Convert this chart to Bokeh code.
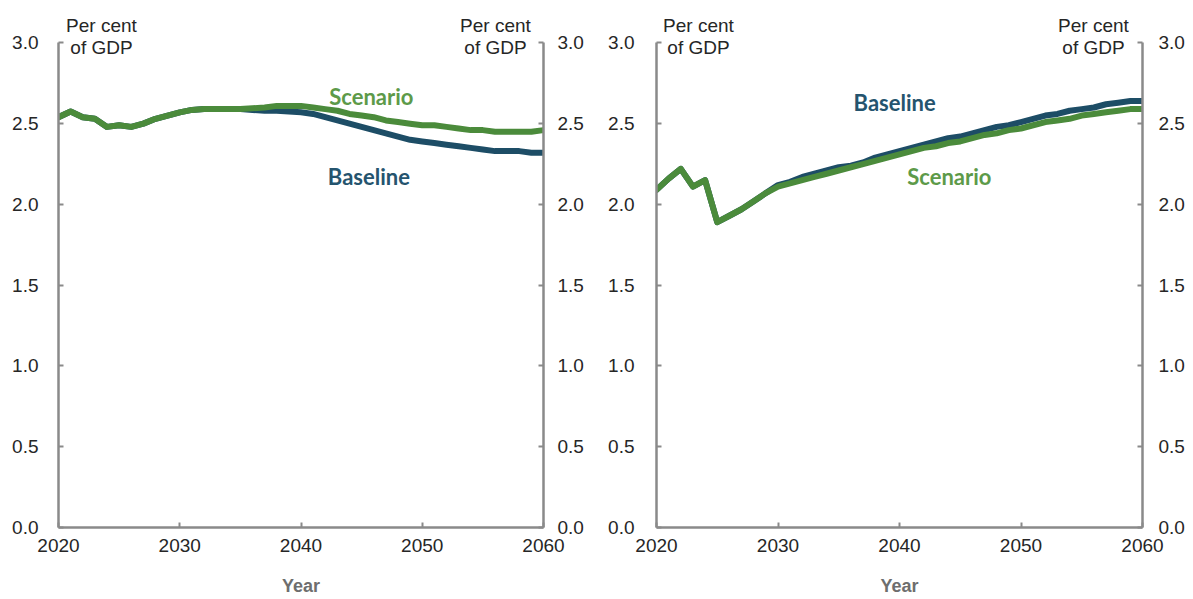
from bokeh.plotting import figure
from bokeh.models import Range1d, LinearAxis, FixedTicker, Label, NumeralTickFormatter
from bokeh.layouts import row
from bokeh.embed import file_html
from bokeh.resources import INLINE

years = list(range(2020, 2061))

left_baseline = [2.54, 2.575, 2.54, 2.53, 2.48, 2.49, 2.48, 2.50, 2.53, 2.55,
                 2.57, 2.585, 2.59, 2.59, 2.59, 2.59, 2.585, 2.58, 2.58, 2.575,
                 2.57, 2.56, 2.54, 2.52, 2.50, 2.48, 2.46, 2.44, 2.42, 2.40,
                 2.39, 2.38, 2.37, 2.36, 2.35, 2.34, 2.33, 2.33, 2.33, 2.32, 2.32]
left_scenario = [2.54, 2.575, 2.54, 2.53, 2.48, 2.49, 2.48, 2.50, 2.53, 2.55,
                 2.57, 2.585, 2.59, 2.59, 2.59, 2.59, 2.595, 2.60, 2.61, 2.61,
                 2.61, 2.60, 2.59, 2.58, 2.56, 2.55, 2.54, 2.52, 2.51, 2.50,
                 2.49, 2.49, 2.48, 2.47, 2.46, 2.46, 2.45, 2.45, 2.45, 2.45, 2.46]

right_baseline = [2.09, 2.16, 2.22, 2.11, 2.15, 1.89, 1.93, 1.97, 2.02, 2.07,
                  2.12, 2.14, 2.17, 2.19, 2.21, 2.23, 2.24, 2.26, 2.29, 2.31,
                  2.33, 2.35, 2.37, 2.39, 2.41, 2.42, 2.44, 2.46, 2.48, 2.49,
                  2.51, 2.53, 2.55, 2.56, 2.58, 2.59, 2.60, 2.62, 2.63, 2.64, 2.64]
right_scenario = [2.09, 2.16, 2.22, 2.11, 2.15, 1.89, 1.93, 1.97, 2.02, 2.07,
                  2.11, 2.13, 2.15, 2.17, 2.19, 2.21, 2.23, 2.25, 2.27, 2.29,
                  2.31, 2.33, 2.35, 2.36, 2.38, 2.39, 2.41, 2.43, 2.44, 2.46,
                  2.47, 2.49, 2.51, 2.52, 2.53, 2.55, 2.56, 2.57, 2.58, 2.59, 2.59]

y_ticks = [0.0, 0.5, 1.0, 1.5, 2.0, 2.5, 3.0]
x_ticks = [2020, 2030, 2040, 2050, 2060]
unit_lines = ["Per cent", "of GDP"]
series_names = ["Baseline", "Scenario"]

BLUE = "#1d4d66"
GREEN = "#4b8b3b"
BLUE_TXT = "#25546e"
GREEN_TXT = "#5d9a49"
AXIS = "#8a8a8a"
FONT = "Liberation Sans"
TXT = "#262626"


def style_axis(ax, standoff):
    ax.ticker = FixedTicker(ticks=y_ticks)
    ax.formatter = NumeralTickFormatter(format="0.0")
    ax.bounds = (0, 3.0)
    ax.axis_line_color = AXIS
    ax.axis_line_width = 2.5
    ax.major_tick_line_color = AXIS
    ax.major_tick_line_width = 2
    ax.major_tick_in = 5
    ax.major_tick_out = 0
    ax.minor_tick_line_color = None
    ax.major_label_standoff = standoff
    ax.major_label_text_font = FONT
    ax.major_label_text_font_size = "19px"
    ax.major_label_text_color = TXT


def make_panel(base, scen, width, bl, br, sl, sr, lbl_pos, ul_off, ur_off):
    p = figure(width=width, height=598, output_backend="svg", toolbar_location=None,
               x_range=Range1d(2020, 2060), y_range=Range1d(0, 3.25),
               min_border_left=bl, min_border_right=br, min_border_top=2,
               min_border_bottom=70, x_axis_type=None, y_axis_type=None)
    p.outline_line_color = None
    p.xgrid.visible = False
    p.ygrid.visible = False
    p.background_fill_color = "white"
    p.border_fill_color = "white"

    la = LinearAxis()
    style_axis(la, sl)
    p.add_layout(la, "left")
    ra = LinearAxis()
    style_axis(ra, sr)
    p.add_layout(ra, "right")

    xa = LinearAxis()
    xa.ticker = FixedTicker(ticks=x_ticks)
    xa.axis_line_color = AXIS
    xa.axis_line_width = 2.5
    xa.major_tick_line_color = AXIS
    xa.major_tick_line_width = 2
    xa.major_tick_in = 5
    xa.major_tick_out = 0
    xa.minor_tick_line_color = None
    xa.major_label_standoff = 11
    xa.major_label_text_font = FONT
    xa.major_label_text_font_size = "19px"
    xa.major_label_text_color = TXT
    xa.axis_label = "Year"
    xa.axis_label_text_font = FONT
    xa.axis_label_text_font_size = "18px"
    xa.axis_label_text_font_style = "bold"
    xa.axis_label_text_color = "#6e6e6e"
    xa.axis_label_standoff = 21
    p.add_layout(xa, "below")

    p.line(years, base, line_color=BLUE, line_width=6, line_join="round", line_cap="round")
    p.line(years, scen, line_color=GREEN, line_width=6, line_join="round", line_cap="round")

    (bx, by), (sx, sy) = lbl_pos
    p.add_layout(Label(x=bx, y=by, text=series_names[0], text_align="center",
                       text_baseline="middle", text_font="Lato", text_font_style="bold",
                       text_font_size="22px", text_color=BLUE_TXT))
    p.add_layout(Label(x=sx, y=sy, text=series_names[1], text_align="center",
                       text_baseline="middle", text_font="Lato", text_font_style="bold",
                       text_font_size="22px", text_color=GREEN_TXT))

    for xv, off in ((2020, ul_off), (2060, ur_off)):
        p.add_layout(Label(x=xv, y=3.0, x_offset=off, y_offset=17, text=unit_lines[0],
                           text_align="center", text_baseline="middle", text_font=FONT,
                           text_font_size="19px", text_color=TXT))
        p.add_layout(Label(x=xv, y=3.0, x_offset=off, y_offset=-5, text=unit_lines[1],
                           text_align="center", text_baseline="middle", text_font=FONT,
                           text_font_size="19px", text_color=TXT))
    return p


p1 = make_panel(left_baseline, left_scenario, 604, 58, 61, 20, 14,
                ((2045.6, 2.17), (2045.8, 2.67)), 43, -48)
p2 = make_panel(right_baseline, right_scenario, 583, 52, 45, 22, 16,
                ((2039.6, 2.63), (2044.1, 2.175)), 42, -49)

layout = row(p1, p2, spacing=0)
open("out.html", "w").write(file_html(layout, INLINE))
